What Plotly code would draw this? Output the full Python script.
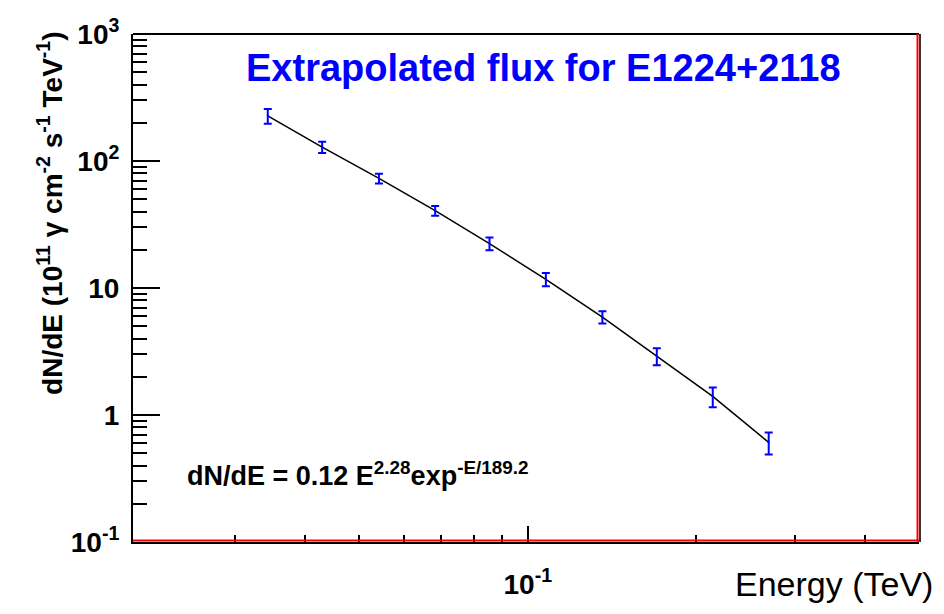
import numpy as np
import plotly.graph_objects as go

# ---- data ----
energy = [0.0343, 0.0429, 0.0542, 0.0683, 0.0854, 0.1077, 0.1359, 0.1700, 0.2140, 0.2694]
flux = [226.8, 128.7, 72.9, 40.6, 22.4, 11.7, 5.90, 2.91, 1.40, 0.608]
flux_err = [30.0, 13.0, 6.5, 3.6, 2.6, 1.4, 0.65, 0.45, 0.25, 0.12]
fit_energy = energy
fit_flux = flux

y_tickvals = [0.1, 1, 10, 100, 1000]
y_ticktext = ["<b>10<sup>-1</sup></b>", "<b>1</b>", "<b>10</b>", "<b>10<sup>2</sup></b>", "<b>10<sup>3</sup></b>"]
x_tickvals = [0.1]
x_ticktext = ["<b>10<sup>-1</sup></b>"]
x_minor = [0.03, 0.04, 0.05, 0.06, 0.07, 0.08, 0.09, 0.2, 0.3, 0.4]
y_minor = [m * 10.0 ** k for k in range(-1, 3) for m in range(2, 10)]

title_text = "<b>Extrapolated flux for E1224+2118</b>"
ytitle_text = "<b>dN/dE (10<sup>11</sup> γ cm<sup>-2</sup> s<sup>-1</sup> TeV<sup>-1</sup>)</b>"
xtitle_text = "Energy (TeV)"
formula_text = "<b>dN/dE = 0.12 E<sup>2.28</sup>exp<sup>-E/189.2</sup></b>"

FONT = "Liberation Sans, Arial, sans-serif"

fig = go.Figure()
fig.add_trace(go.Scatter(
    x=fit_energy, y=fit_flux, mode="lines",
    line=dict(color="black", width=1.5), hoverinfo="skip", showlegend=False))
fig.add_trace(go.Scatter(
    x=energy, y=flux, mode="markers",
    marker=dict(color="blue", size=2),
    error_y=dict(type="data", array=flux_err, color="blue", thickness=2, width=4),
    showlegend=False))

fig.update_layout(
    width=944, height=614,
    margin=dict(l=133, r=25, t=34, b=72),
    paper_bgcolor="white", plot_bgcolor="white",
    font=dict(family=FONT, color="black"),
    showlegend=False,
)

fig.update_xaxes(
    type="log", range=[np.log10(0.0197), np.log10(0.5)],
    showgrid=False, zeroline=False,
    showline=True, linecolor="black", linewidth=2,
    ticks="inside", ticklen=16, tickwidth=1.5, tickcolor="black",
    tickmode="array", tickvals=x_tickvals, ticktext=x_ticktext,
    tickfont=dict(family=FONT, size=28, color="black"),
    ticklabelstandoff=16,
    minor=dict(tickmode="array", tickvals=x_minor, ticks="inside", ticklen=7,
               tickwidth=1.5, tickcolor="black", showgrid=False),
)
fig.update_yaxes(
    type="log", range=[-1, 3],
    showgrid=False, zeroline=False,
    showline=True, linecolor="black", linewidth=2,
    ticks="inside", ticklen=27, tickwidth=1.5, tickcolor="black",
    tickmode="array", tickvals=y_tickvals, ticktext=y_ticktext,
    tickfont=dict(family=FONT, size=28, color="black"),
    ticklabelstandoff=6,
    minor=dict(tickmode="array", tickvals=y_minor, ticks="inside", ticklen=14,
               tickwidth=1.5, tickcolor="black", showgrid=False),
)

# frame: top black, right & bottom red with dark shadow
fig.add_shape(type="line", xref="paper", yref="paper", x0=0, x1=1, y0=1, y1=1,
              line=dict(color="black", width=2))
fig.add_shape(type="line", xref="paper", yref="paper", x0=1, x1=1, y0=0, y1=1,
              xsizemode="pixel", xanchor=1, line=dict(color="#333333", width=2))
fig.add_shape(type="line", xref="paper", yref="paper", x0=-1.5, x1=-1.5, y0=0, y1=1,
              xsizemode="pixel", xanchor=1, line=dict(color="red", width=2))
fig.add_shape(type="line", xref="paper", yref="paper", x0=0, x1=1, y0=1.5, y1=1.5,
              ysizemode="pixel", yanchor=0, line=dict(color="red", width=2))

fig.add_annotation(text=title_text, xref="paper", yref="paper", x=0.522, y=0.933,
                   xanchor="center", yanchor="middle", showarrow=False,
                   font=dict(family=FONT, size=38, color="blue"))
fig.add_annotation(text=ytitle_text, xref="paper", yref="paper", x=-0.1056, y=1.01,
                   xanchor="center", yanchor="top", textangle=-90, showarrow=False,
                   font=dict(family=FONT, size=28, color="black"))
fig.add_annotation(text=xtitle_text, xref="paper", yref="paper", x=1.0204, y=-0.0836,
                   xanchor="right", yanchor="middle", showarrow=False,
                   font=dict(family=FONT, size=34, color="black"))
fig.add_annotation(text=formula_text, xref="paper", yref="paper", x=0.066, y=0.133,
                   xanchor="left", yanchor="middle", showarrow=False,
                   font=dict(family=FONT, size=27, color="black"))

fig.write_html("out.html")
